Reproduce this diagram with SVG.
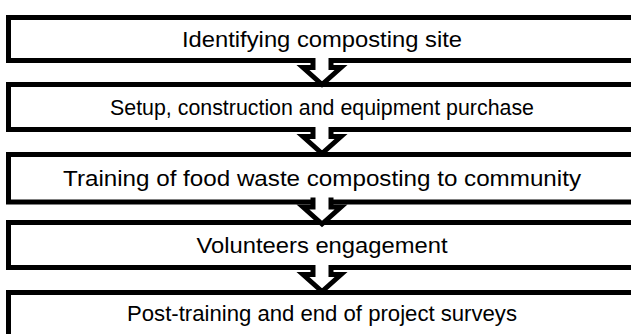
<svg xmlns="http://www.w3.org/2000/svg" width="631" height="334" viewBox="0 0 631 334">
  <style>
    .box { fill: #ffffff; stroke: #000000; stroke-width: 5; }
    .label { font-family: "Liberation Sans", Arial, sans-serif; font-size: 22px; fill: #000000; text-anchor: middle; dominant-baseline: central; }
    .arrow-fill { fill: #ffffff; stroke: none; }
    .arrow-line { fill: none; stroke: #000000; stroke-width: 5; stroke-linejoin: miter; }
  </style>
  <defs>
    <!-- block down-arrow: white body that opens into the box above, outlined in black -->
    <g id="down-arrow">
      <polygon class="arrow-fill" points="313,-4 313,7 303,7 322,24 341,7 331,7 331,-4"/>
      <polyline class="arrow-line" points="313,-2.5 313,7 303,7 322,24 341,7 331,7 331,-2.5"/>
    </g>
  </defs>
  <rect width="631" height="334" fill="#ffffff"/>

  <g id="step-1">
    <rect class="box" x="8.5" y="17.5" width="700" height="43"/>
    <text class="label" x="322" y="39" textLength="280" lengthAdjust="spacingAndGlyphs">Identifying composting site</text>
  </g>
  <g id="step-2">
    <rect class="box" x="8.5" y="84.5" width="700" height="45"/>
    <text class="label" x="322" y="107" textLength="424" lengthAdjust="spacingAndGlyphs">Setup, construction and equipment purchase</text>
  </g>
  <g id="step-3">
    <rect class="box" x="8.5" y="154.5" width="700" height="47.5"/>
    <text class="label" x="322" y="178" textLength="518" lengthAdjust="spacingAndGlyphs">Training of food waste composting to community</text>
  </g>
  <g id="step-4">
    <rect class="box" x="8.5" y="222.5" width="700" height="45"/>
    <text class="label" x="322" y="245" textLength="251" lengthAdjust="spacingAndGlyphs">Volunteers engagement</text>
  </g>
  <g id="step-5">
    <rect class="box" x="8.5" y="292.5" width="700" height="60"/>
    <text class="label" x="322" y="313" textLength="390" lengthAdjust="spacingAndGlyphs">Post-training and end of project surveys</text>
  </g>

  <g id="connectors">
    <use href="#down-arrow" transform="translate(0,60.5)"/>
    <use href="#down-arrow" transform="translate(0,129.5)"/>
    <use href="#down-arrow" transform="translate(0,200)"/>
    <use href="#down-arrow" transform="translate(0,267.5)"/>
  </g>
</svg>
